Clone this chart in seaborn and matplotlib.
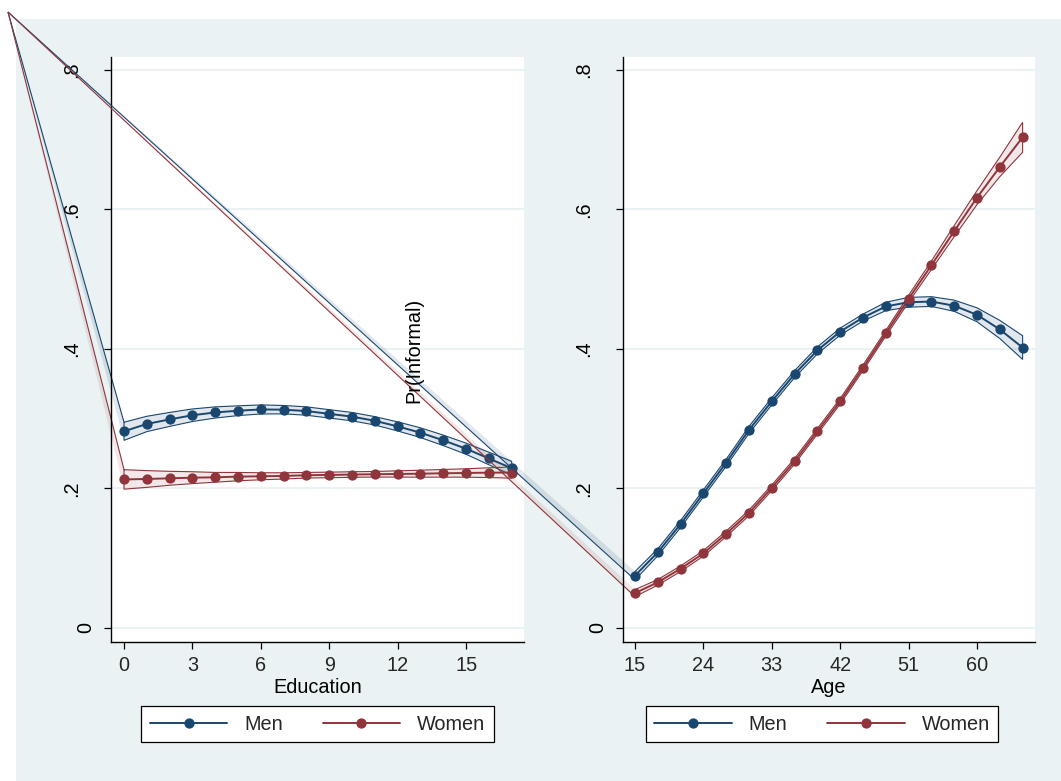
import numpy as np
import pandas as pd
import matplotlib
matplotlib.use("Agg")
import matplotlib.pyplot as plt
from matplotlib.patches import Polygon, Rectangle
from matplotlib.lines import Line2D
from matplotlib.transforms import ScaledTranslation
import seaborn as sns

# ---- data -------------------------------------------------------------
education = list(range(0, 18))
men_edu = [0.282, 0.2925, 0.299, 0.305, 0.309, 0.3115, 0.3133, 0.313, 0.311,
           0.307, 0.303, 0.297, 0.289, 0.280, 0.269, 0.257, 0.243, 0.229]
men_edu_ci = [0.013, 0.011, 0.010, 0.009, 0.008, 0.007, 0.0065, 0.006, 0.006,
              0.006, 0.006, 0.006, 0.0065, 0.007, 0.0075, 0.008, 0.009, 0.010]
women_edu = [0.213, 0.2136, 0.2146, 0.2155, 0.216, 0.217, 0.2175, 0.218, 0.219,
             0.2194, 0.220, 0.2204, 0.2208, 0.2212, 0.2218, 0.2222, 0.2227, 0.2228]
women_edu_ci = [0.014, 0.012, 0.010, 0.0085, 0.007, 0.006, 0.005, 0.0045, 0.004,
                0.004, 0.004, 0.004, 0.0045, 0.005, 0.0055, 0.006, 0.007, 0.008]

age = list(range(15, 67, 3))
men_age = [0.075, 0.1085, 0.149, 0.193, 0.237, 0.284, 0.325, 0.364, 0.398,
           0.425, 0.445, 0.461, 0.467, 0.468, 0.462, 0.449, 0.428, 0.402]
men_age_ci = [0.006, 0.005, 0.005, 0.005, 0.005, 0.005, 0.005, 0.005, 0.005,
              0.005, 0.005, 0.006, 0.007, 0.007, 0.008, 0.010, 0.013, 0.017]
women_age = [0.050, 0.0655, 0.085, 0.107, 0.135, 0.165, 0.201, 0.239, 0.282,
             0.325, 0.373, 0.4225, 0.472, 0.520, 0.569, 0.617, 0.661, 0.7035]
women_age_ci = [0.005, 0.004, 0.004, 0.004, 0.004, 0.004, 0.004, 0.004, 0.004,
                0.004, 0.004, 0.004, 0.005, 0.006, 0.008, 0.010, 0.014, 0.0215]

edu_ticks = [0, 3, 6, 9, 12, 15]
age_ticks = [15, 24, 33, 42, 51, 60]
y_ticks = [0, 0.2, 0.4, 0.6, 0.8]
y_ticklabels = ["0", ".2", ".4", ".6", ".8"]
groups = ["Men", "Women"]

# ---- style ------------------------------------------------------------
NAVY = "#1A476F"
MAROON = "#90353B"
BG = "#EAF2F3"
FS = 14.3

sns.set_theme(style="white")
plt.rcParams["font.family"] = ["Liberation Sans", "DejaVu Sans"]

W, H, DPI = 1061, 781, 100
fig = plt.figure(figsize=(W / DPI, H / DPI), dpi=DPI, facecolor="white")
fig.patches.append(Rectangle((16 / W, 0), 1, 1 - 19 / H, transform=fig.transFigure,
                             facecolor=BG, edgecolor="none", zorder=-10))

ax1 = fig.add_axes([111 / W, 1 - 642 / H, 413 / W, 585 / H])
ax2 = fig.add_axes([623 / W, 1 - 642 / H, 412 / W, 585 / H])

ax1.set_xlim(-0.57, 17.54)
ax2.set_xlim(13.42, 67.63)
for ax in (ax1, ax2):
    ax.set_ylim(-0.0201, 0.8186)
    ax.set_facecolor("white")

# corner anchor of the band outlines (figure fraction)
corner_fig = (8 / W, 1 - 12 / H)


def band(ax, x, mid, ci, color, alpha, upper_first):
    disp = fig.transFigure.transform(corner_fig)
    cx, cy = ax.transData.inverted().transform(disp)
    lo = [m - c for m, c in zip(mid, ci)]
    hi = [m + c for m, c in zip(mid, ci)]
    a, b = (hi, lo) if upper_first else (lo, hi)
    ring = list(zip(x, a)) + list(zip(x[::-1], b[::-1]))
    ax.add_patch(Polygon([(cx, cy)] + ring, closed=True, facecolor=color, alpha=alpha,
                         edgecolor="none", clip_on=False, zorder=2))
    outline = [(cx, cy)] + ring + [ring[0]]
    ax.add_patch(Polygon(outline, closed=False, facecolor="none", edgecolor=color,
                         linewidth=0.8, clip_on=False, zorder=2.1))


def panel(ax, x, men, men_ci, women, women_ci, ticks, xlabel, upper_first):
    for yv in y_ticks:
        ax.axhline(yv, color=BG, lw=1.5, zorder=1)
    band(ax, x, men, men_ci, NAVY, 0.13, upper_first)
    band(ax, x, women, women_ci, MAROON, 0.11, upper_first)
    df = pd.DataFrame({"x": list(x) * 2, "p": list(men) + list(women),
                       "g": ["Men"] * len(x) + ["Women"] * len(x)})
    sns.lineplot(data=df, x="x", y="p", hue="g", hue_order=groups,
                 palette=[NAVY, MAROON], marker="o", markersize=7.4,
                 markeredgewidth=0, lw=1.4, legend=False, ax=ax, zorder=3)
    for s in ("top", "right"):
        ax.spines[s].set_visible(False)
    for s in ("left", "bottom"):
        ax.spines[s].set_color("black")
        ax.spines[s].set_linewidth(1.0)
    ax.set_xticks(ticks)
    ax.set_xticklabels([str(t) for t in ticks], fontsize=FS)
    ax.set_yticks(y_ticks)
    ax.set_yticklabels([])
    ax.tick_params(axis="both", direction="out", length=5, width=0.9,
                   color="black", left=True, bottom=True)
    ax.tick_params(axis="x", pad=5)
    ax.set_xlabel(xlabel, fontsize=FS, labelpad=2.5, color="black")
    ax.set_ylabel("")
    for yv, lab in zip(y_ticks, y_ticklabels):
        off = 25 if lab == "0" else 39
        tr = ax.get_yaxis_transform() + ScaledTranslation(-off / DPI, 0, fig.dpi_scale_trans)
        ax.text(0, yv, lab, transform=tr, rotation=90, ha="center", va="center",
                fontsize=FS, color="black")
    handles = [Line2D([], [], color=c, lw=1.4, marker="o", markersize=7.4,
                      markeredgewidth=0) for c in (NAVY, MAROON)]
    bbox = ax.get_position()
    cx = (bbox.x0 + bbox.x1) / 2 - (7 / W if ax is ax2 else 0)
    leg = ax.legend(handles, groups, loc="center", bbox_to_anchor=(cx, 1 - 724 / H),
                    bbox_transform=fig.transFigure, ncol=2, fontsize=FS,
                    handlelength=3.9, handletextpad=0.85, columnspacing=2.0,
                    borderpad=0.42, frameon=True, fancybox=False, framealpha=1,
                    edgecolor="black")
    leg.get_frame().set_linewidth(0.9)


panel(ax1, education, men_edu, men_edu_ci, women_edu, women_edu_ci, edu_ticks,
      "Education", True)
panel(ax2, age, men_age, men_age_ci, women_age, women_age_ci, age_ticks, "Age", False)

fig.text(414 / W, 1 - 350 / H, "Pr(Informal)", rotation=90, ha="center", va="center",
         fontsize=FS, color="black")

fig.savefig("out.png", dpi=DPI, facecolor="white")
